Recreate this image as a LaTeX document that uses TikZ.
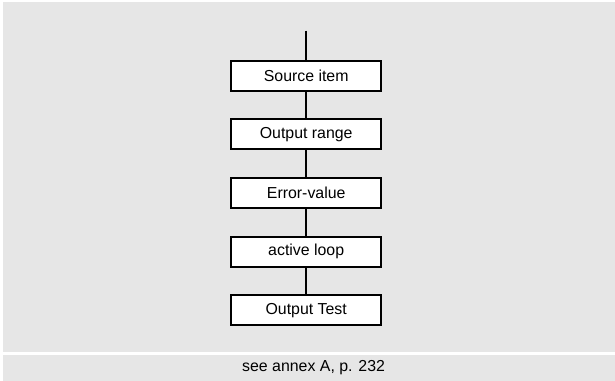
\documentclass[tikz,border=0pt]{standalone}
\usepackage{fontspec}
\setmainfont{Liberation Sans}
\usepackage{tikz}
\usetikzlibrary{positioning}
\definecolor{panelgray}{RGB}{230,230,230}

\begin{document}
\begin{tikzpicture}[
  stage/.style={rectangle,draw,line width=1.4pt,fill=white,minimum width=3.75cm,minimum height=0.75cm,inner sep=0pt,align=center,font=\fontsize{11.3}{13.6}\selectfont},
  link/.style={line width=1.4pt},
  note/.style={font=\fontsize{11.3}{13.6}\selectfont},
]
\useasboundingbox (0,0) rectangle (15.375,9.525);
\fill[panelgray] (0.07,0.72) rectangle (15.375,9.48);
\fill[panelgray] (0.07,0) rectangle (15.375,0.66);

\coordinate (feed) at (7.655,8.76);
\node[stage] (source) at (7.655,7.635) {Source item};
\node[stage] (range) at (7.655,6.1675) {Output range};
\node[stage] (errval) at (7.655,4.70) {Error-value};
\node[stage] (loop) at (7.655,3.2325) {active loop};
\node[stage] (test) at (7.655,1.765) {Output Test};

\draw[link] (feed) -- (source);
\draw[link] (source) -- (range);
\draw[link] (range) -- (errval);
\draw[link] (errval) -- (loop);
\draw[link] (loop) -- (test);

\node[note] (annex) at (7.84,0.325) {see annex A, p. 232};

\end{tikzpicture}
\end{document}
